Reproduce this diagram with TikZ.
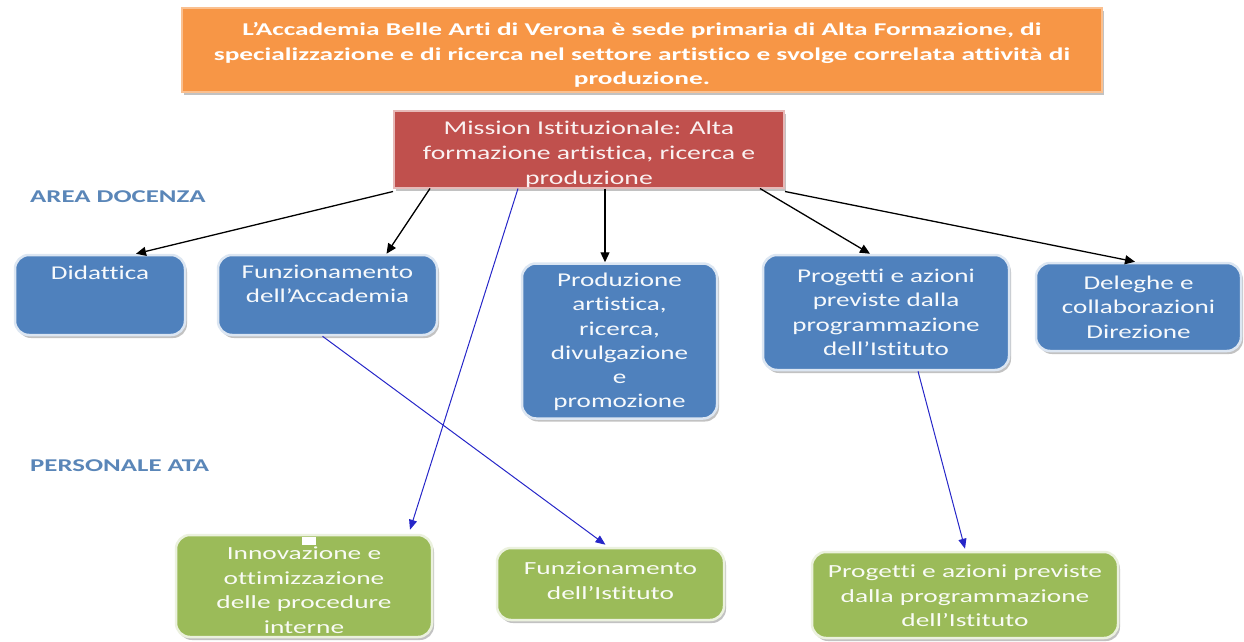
\documentclass[tikz,border=0pt]{standalone}
\usepackage{fontspec}
\setmainfont{Carlito}
\newfontfamily\boxf{Carlito}[FakeStretch=1.39,Ligatures={NoCommon}]
\newfontfamily\misf{Carlito}[FakeStretch=1.42,Ligatures={NoCommon}]
\newfontfamily\grf{Carlito}[FakeStretch=1.48,Ligatures={NoCommon}]
\newfontfamily\topf{Carlito}[FakeStretch=1.52,Ligatures={NoCommon}]
\newfontfamily\labf{Carlito}[FakeStretch=1.49,Ligatures={NoCommon}]
\usetikzlibrary{arrows.meta,shadows}
\definecolor{orfill}{HTML}{F79646}
\definecolor{orline}{HTML}{FAC090}
\definecolor{redfill}{HTML}{C0504D}
\definecolor{redline}{HTML}{E6B9B8}
\definecolor{bluefill}{HTML}{4F81BD}
\definecolor{blueline}{HTML}{DCE6F2}
\definecolor{greenfill}{HTML}{9BBB59}
\definecolor{greenline}{HTML}{EBF1DE}
\definecolor{labcol}{HTML}{5A86B8}
\definecolor{arrblue}{HTML}{2626C8}
\tikzset{
  shad/.style={drop shadow={shadow xshift=2pt,shadow yshift=-3pt,fill=black!40,opacity=.6}},
  topbox/.style={shad,fill=orfill,draw=orline,line width=1.5pt,minimum width=920pt,minimum height=84pt,inner sep=0pt},
  misbox/.style={shad,fill=redfill,draw=redline,line width=2pt,minimum width=390pt,minimum height=77pt,inner sep=0pt},
  bluebox/.style={shad,fill=bluefill,draw=blueline,line width=2.5pt,rounded corners=14pt,inner sep=0pt},
  greenbox/.style={shad,fill=greenfill,draw=greenline,line width=2.5pt,rounded corners=14pt,inner sep=0pt},
  txt/.style={text=white!95!bluefill,align=center,inner sep=0pt,font=\boxf\fontsize{19.5}{24.3}\selectfont},
  mtxt/.style={text=white!92!redfill,align=center,inner sep=0pt,font=\misf\fontsize{19.5}{25}\selectfont},
  toptxt/.style={text=white,align=center,inner sep=0pt,font=\topf\bfseries\fontsize{18}{24.5}\selectfont},
  gtxt/.style={text=white!94!greenfill,align=center,inner sep=0pt,font=\grf\fontsize{18.5}{24.5}\selectfont},
  lab/.style={text=labcol,anchor=west,inner sep=0pt,font=\labf\bfseries\fontsize{18}{22}\selectfont},
  blk/.style={-{Triangle[length=10pt,width=9pt]},line width=1.3pt,black},
  blu/.style={-{Triangle[length=10pt,width=8pt]},line width=1pt,arrblue}
}
\begin{document}
\begin{tikzpicture}[x=1pt,y=-1pt]
\useasboundingbox (0,0) rectangle (1244,642);
% top
\node[topbox] (top) at (642,50) {};
\node[toptxt] (toptext) at ([yshift=-5pt]top.center) {L’Accademia Belle Arti di Verona è sede primaria di Alta Formazione, di\\specializzazione e di ricerca nel settore artistico e svolge correlata attività di\\produzione.};
% mission
\node[misbox] (mis) at (589,149) {};
\node[mtxt] (mistext) at ([yshift=-5pt]mis.center) {Mission Istituzionale: Alta\\formazione artistica, ricerca e\\produzione};
% labels
\node[lab] (area) at (30,197) {AREA DOCENZA};
\node[lab] (pers) at (30,466) {PERSONALE ATA};
% blue boxes
\node[bluebox,minimum width=170pt,minimum height=80pt] (did) at (100,295) {};
\node[txt,anchor=north] (didtext) at ([yshift=-12pt]did.north) {Didattica};
\node[bluebox,minimum width=219pt,minimum height=80pt] (fa) at (327.5,295) {};
\node[txt,anchor=north] (fatext) at ([yshift=-11pt]fa.north) {Funzionamento\\dell’Accademia};
\node[bluebox,minimum width=195pt,minimum height=155pt] (pr) at (619.5,341) {};
\node[txt] (prtext) at ([yshift=-1pt]pr.center) {Produzione\\artistica,\\ricerca,\\divulgazione\\e\\promozione};
\node[bluebox,minimum width=246pt,minimum height=115pt] (pg) at (886,312.5) {};
\node[txt] (pgtext) at (pg.center) {Progetti e azioni\\previste dalla\\programmazione\\dell’Istituto};
\node[bluebox,minimum width=205pt,minimum height=88pt] (dl) at (1138.5,307) {};
\node[txt] (dltext) at (dl.center) {Deleghe e\\collaborazioni\\Direzione};
% green boxes
\node[greenbox,minimum width=256pt,minimum height=102pt] (in) at (304,586) {};
\node[gtxt] (intext) at ([yshift=-4pt]in.center) {Innovazione e\\ottimizzazione\\delle procedure\\interne};
\fill[white] (302,537) rectangle (316,545);
\node[greenbox,minimum width=227pt,minimum height=72pt] (fi) at (610.5,584) {};
\node[gtxt,anchor=north] (fitext) at ([yshift=-15pt]fi.north) {Funzionamento\\dell’Istituto};
\node[greenbox,minimum width=306pt,minimum height=86pt] (pgg) at (965,595) {};
\node[gtxt] (pggtext) at ([yshift=-1pt]pgg.center) {Progetti e azioni previste\\dalla programmazione\\dell’Istituto};
% black arrows
\draw[blk] ([yshift=-3pt]mis.south west) -- ([xshift=36pt]did.north);
\draw[blk] ([xshift=37pt]mis.south west) -- ([xshift=59pt]fa.north);
\draw[blk] ([xshift=-14.5pt]pr.north |- mis.south) -- ([xshift=-14.5pt]pr.north);
\draw[blk] ([xshift=-25pt]mis.south east) -- ([xshift=-16pt]pg.north);
\draw[blk] ([yshift=-3pt]mis.south east) -- ([xshift=-3.5pt]dl.north);
% blue arrows
\draw[blu] ([xshift=-71pt]mis.south) -- ([xshift=106pt,yshift=4pt]in.north);
\draw[blu] ([xshift=-5pt]fa.south) -- ([xshift=-5pt,yshift=2pt]fi.north);
\draw[blu] ([xshift=32pt]pg.south) -- ([yshift=2pt]pgg.north);
\end{tikzpicture}
\end{document}
